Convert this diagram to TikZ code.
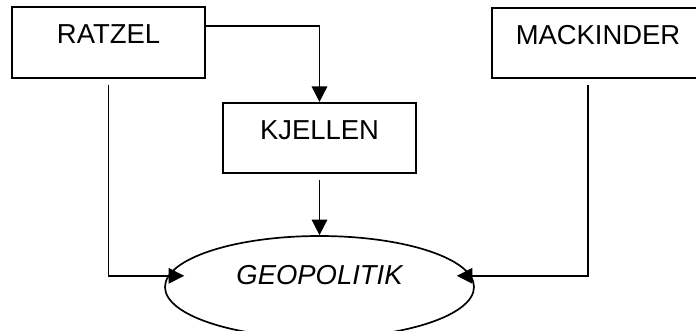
\documentclass[tikz,border=0pt]{standalone}
\usepackage{fontspec}
\setmainfont{Liberation Sans}
\usepackage{tikz}
\usetikzlibrary{
    arrows.meta,
    shapes.geometric
}
\tikzset{
    % boxes with the name sitting in the upper part
    namebox/.style={
        draw, line width=1.2pt, rectangle, inner sep=0pt,
        minimum width=#1, text height=0.91cm, text depth=0.85cm,
        font=\fontsize{19.5}{23}\selectfont
    },
    % the oval at the bottom
    target/.style={
        draw, line width=1.2pt, ellipse, inner sep=0pt,
        minimum width=7.725cm, minimum height=2.55cm,
        text height=0.5cm, text depth=0.65cm,
        font=\fontsize{19.5}{23}\selectfont\itshape
    },
    link/.style={line width=1.1pt, -{Triangle[length=11pt,width=11pt]}},
    gap/.style={shorten <=0.15cm}
}
\begin{document}
\begin{tikzpicture}
            \useasboundingbox (0,0) rectangle (17.4,-8.25);
            \node[namebox=4.825cm] (ratzel) at (2.7125,-1.0625) {RATZEL};
            \node[namebox=5.3cm] (mackinder) at (14.95,-1.075) {MACKINDER};
            \node[namebox=4.825cm] (kjellen) at (7.9875,-3.45) {KJELLEN};
            \node[target] (geo) at (7.9875,-7.175) {GEOPOLITIK};
            \coordinate (geoleft) at ([xshift=0.5cm,yshift=0.28cm]geo.west);
            \coordinate (georight) at ([xshift=-0.45cm,yshift=0.28cm]geo.east);
            \begin{scope}
                \draw[link] ([yshift=0.41cm]ratzel.east) -| (kjellen.north);
                \draw[link, gap] (kjellen.south) -- (geo.north);
                \draw[link, gap] (ratzel.south) |- (geoleft);
                \draw[link, gap] ([xshift=-0.25cm]mackinder.south) |- (georight);
            \end{scope}
        \end{tikzpicture}
\end{document}
